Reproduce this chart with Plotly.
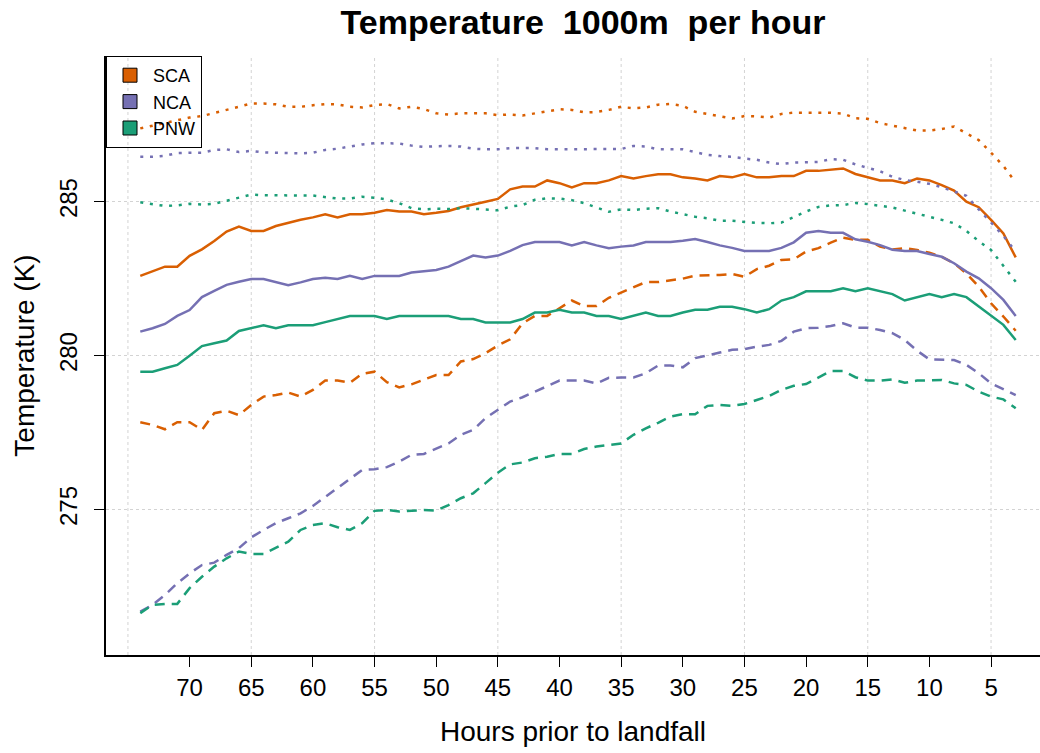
import plotly.graph_objects as go

# Hours before landfall, 74 down to 3
hours = list(range(74, 2, -1))

# 1000 m temperature (K): median, lower and upper percentile curves per region
sca_median = [282.59, 282.75, 282.89, 282.89, 283.24, 283.45, 283.72, 284.03, 284.19, 284.05, 284.05, 284.21,
              284.32, 284.41, 284.49, 284.59, 284.49, 284.59, 284.59, 284.64, 284.73, 284.68, 284.68,
              284.59, 284.64, 284.70, 284.82, 284.92, 285.00, 285.09, 285.40, 285.49, 285.49, 285.69, 285.60,
              285.46, 285.60, 285.60, 285.69, 285.83, 285.75, 285.83, 285.89, 285.89, 285.79, 285.75, 285.69,
              285.83, 285.79, 285.90, 285.79, 285.79, 285.83, 285.83, 286.00, 286.00, 286.03, 286.08, 285.90,
              285.79, 285.69, 285.69, 285.60, 285.75, 285.69, 285.54, 285.36, 285.00, 284.82, 284.41, 283.97, 283.19]
nca_median = [280.78, 280.89, 281.03, 281.29, 281.48, 281.90, 282.10, 282.30, 282.40, 282.49, 282.49, 282.38,
              282.29, 282.38, 282.49, 282.53, 282.49, 282.59, 282.49, 282.59, 282.59, 282.59, 282.70,
              282.75, 282.78, 282.89, 283.07, 283.25, 283.19, 283.25, 283.40, 283.59, 283.69, 283.69, 283.69,
              283.58, 283.69, 283.58, 283.49, 283.54, 283.58, 283.69, 283.69, 283.69, 283.73, 283.79, 283.69,
              283.58, 283.50, 283.40, 283.40, 283.40, 283.50, 283.68, 283.99, 284.05, 283.99, 283.99, 283.78,
              283.70, 283.59, 283.44, 283.40, 283.40, 283.30, 283.21, 283.00, 282.73, 282.51, 282.19, 281.81, 281.29]
pnw_median = [279.48, 279.48, 279.59, 279.70, 280.00, 280.31, 280.40, 280.49, 280.80, 280.89, 280.99, 280.89,
              280.99, 280.99, 280.99, 281.09, 281.19, 281.29, 281.29, 281.29, 281.19, 281.29, 281.29,
              281.29, 281.29, 281.29, 281.19, 281.19, 281.08, 281.08, 281.08, 281.19, 281.40, 281.40, 281.49,
              281.40, 281.40, 281.29, 281.29, 281.19, 281.29, 281.40, 281.29, 281.29, 281.40, 281.49, 281.49,
              281.59, 281.59, 281.51, 281.40, 281.51, 281.79, 281.90, 282.09, 282.09, 282.09, 282.19, 282.09,
              282.19, 282.09, 282.00, 281.79, 281.90, 282.00, 281.90, 282.00, 281.90, 281.59, 281.29, 281.00, 280.51]

sca_low = [277.84, 277.75, 277.61, 277.84, 277.84, 277.59, 278.13, 278.21, 278.07, 278.40, 278.67, 278.72,
           278.80, 278.67, 278.89, 279.19, 279.19, 279.12, 279.41, 279.48, 279.14, 278.97, 279.07,
           279.21, 279.37, 279.37, 279.81, 279.89, 280.08, 280.33, 280.53, 281.05, 281.29, 281.29, 281.54,
           281.79, 281.61, 281.61, 281.88, 282.05, 282.22, 282.39, 282.39, 282.44, 282.50, 282.60, 282.60,
           282.62, 282.65, 282.56, 282.81, 282.92, 283.11, 283.13, 283.38, 283.49, 283.67, 283.83, 283.76,
           283.76, 283.54, 283.45, 283.49, 283.43, 283.34, 283.21, 283.00, 282.67, 282.24, 281.70, 281.27, 280.81]
nca_low = [271.69, 271.91, 272.23, 272.61, 272.93, 273.20, 273.28, 273.53, 273.75, 274.10, 274.34, 274.56,
           274.72, 274.88, 275.12, 275.42, 275.69, 276.02, 276.29, 276.31, 276.38, 276.56, 276.78,
           276.81, 276.99, 277.15, 277.43, 277.59, 277.97, 278.24, 278.51, 278.65, 278.83, 278.99, 279.19,
           279.19, 279.19, 279.10, 279.28, 279.29, 279.29, 279.43, 279.68, 279.68, 279.62, 279.92, 280.02,
           280.10, 280.19, 280.21, 280.29, 280.35, 280.48, 280.78, 280.89, 280.91, 280.96, 281.05, 280.91,
           280.91, 280.83, 280.73, 280.51, 280.16, 279.88, 279.88, 279.86, 279.70, 279.43, 279.10, 278.91, 278.72]
pnw_low = [271.64, 271.91, 271.94, 271.94, 272.45, 272.82, 273.15, 273.42, 273.64, 273.56, 273.56, 273.75,
           273.96, 274.34, 274.50, 274.56, 274.43, 274.34, 274.56, 274.96, 274.99, 274.94, 274.96,
           274.99, 274.97, 275.15, 275.37, 275.53, 275.86, 276.20, 276.47, 276.53, 276.67, 276.72, 276.81,
           276.81, 276.97, 277.05, 277.10, 277.15, 277.43, 277.64, 277.82, 278.02, 278.10, 278.10, 278.37,
           278.40, 278.37, 278.43, 278.56, 278.69, 278.89, 279.02, 279.08, 279.30, 279.50, 279.50, 279.30,
           279.19, 279.19, 279.23, 279.12, 279.19, 279.21, 279.21, 279.10, 279.05, 278.83, 278.67, 278.58, 278.29]

sca_high = [287.38, 287.47, 287.57, 287.65, 287.73, 287.78, 287.87, 287.98, 288.08, 288.19, 288.19, 288.16,
            288.08, 288.08, 288.13, 288.17, 288.16, 288.08, 288.06, 288.14, 288.17, 288.03, 288.08,
            288.01, 287.87, 287.83, 287.87, 287.87, 287.87, 287.81, 287.83, 287.80, 287.87, 287.95, 288.00,
            287.98, 287.90, 287.91, 287.98, 288.08, 288.03, 288.06, 288.15, 288.17, 288.11, 287.92, 287.84,
            287.76, 287.70, 287.78, 287.77, 287.73, 287.85, 287.89, 287.89, 287.89, 287.89, 287.86, 287.71,
            287.69, 287.55, 287.47, 287.38, 287.31, 287.31, 287.36, 287.44, 287.22, 287.00, 286.59, 286.16, 285.62]
nca_high = [286.46, 286.46, 286.49, 286.58, 286.59, 286.59, 286.68, 286.70, 286.61, 286.65, 286.60, 286.59,
            286.58, 286.57, 286.59, 286.68, 286.72, 286.79, 286.86, 286.90, 286.90, 286.89, 286.82,
            286.78, 286.80, 286.81, 286.79, 286.72, 286.70, 286.70, 286.74, 286.73, 286.74, 286.70, 286.70,
            286.70, 286.70, 286.70, 286.70, 286.71, 286.81, 286.79, 286.70, 286.70, 286.70, 286.61, 286.52,
            286.48, 286.46, 286.40, 286.36, 286.27, 286.22, 286.27, 286.29, 286.29, 286.38, 286.36, 286.21,
            286.09, 285.99, 285.81, 285.70, 285.65, 285.58, 285.47, 285.34, 285.19, 284.75, 284.32, 283.89, 283.38]
pnw_high = [284.98, 284.93, 284.86, 284.88, 284.93, 284.91, 284.93, 285.03, 285.14, 285.23, 285.21, 285.20,
            285.20, 285.20, 285.20, 285.16, 285.10, 285.10, 285.16, 285.13, 285.07, 284.95, 284.79,
            284.75, 284.77, 284.76, 284.79, 284.77, 284.75, 284.72, 284.84, 284.89, 285.06, 285.11, 285.10,
            285.05, 284.95, 284.82, 284.67, 284.75, 284.73, 284.77, 284.79, 284.68, 284.59, 284.51, 284.46,
            284.38, 284.38, 284.34, 284.31, 284.30, 284.32, 284.50, 284.68, 284.83, 284.88, 284.89, 284.96,
            284.92, 284.87, 284.81, 284.71, 284.62, 284.51, 284.41, 284.30, 284.05, 283.72, 283.43, 282.92, 282.40]

regions = ["SCA", "NCA", "PNW"]
colors = {"SCA": "#d95f02", "NCA": "#7570b3", "PNW": "#1b9e77"}
series = {
    "SCA": (sca_median, sca_low, sca_high),
    "NCA": (nca_median, nca_low, nca_high),
    "PNW": (pnw_median, pnw_low, pnw_high),
}

x_tick_vals = list(range(70, 0, -5))
y_tick_vals = [275, 280, 285]
grid_hours = list(range(75, 0, -10))

FONT = "Liberation Sans, Arial, Helvetica, sans-serif"
dash_styles = ["solid", "10px,7px", "3px,6.7px"]

fig = go.Figure()

for region in regions:
    for values, dash in zip(series[region], dash_styles):
        fig.add_trace(go.Scatter(
            x=hours, y=values, mode="lines",
            line=dict(color=colors[region], width=2.5, dash=dash),
            showlegend=False, hoverinfo="skip",
        ))

# legend entries: filled boxes
for region in regions:
    fig.add_trace(go.Scatter(
        x=[None], y=[None], mode="markers", name=region,
        marker=dict(symbol="square", size=14, color=colors[region],
                    line=dict(color="black", width=1)),
    ))

# dotted vertical grid lines
for h in grid_hours:
    fig.add_shape(type="line", xref="x", yref="paper", x0=h, x1=h, y0=0, y1=1,
                  line=dict(color="#d3d3d3", width=1, dash="dot"), layer="below")

fig.update_layout(
    width=1040, height=753,
    margin=dict(l=106, r=0, t=56, b=98),
    paper_bgcolor="white", plot_bgcolor="white",
    font=dict(family=FONT, color="black"),
    title=dict(text="Temperature\u00a0 1000m\u00a0 per hour",
               font=dict(family=FONT, size=34, color="black", weight="bold"),
               x=0.5606, xanchor="center", xref="container",
               y=0.971, yanchor="middle", yref="container"),
    xaxis=dict(
        range=[76.78, 1.03], tickmode="array", tickvals=x_tick_vals,
        ticks="outside", ticklen=10, tickwidth=1, tickcolor="black",
        tickfont=dict(size=24), showgrid=False, zeroline=False,
        showline=True, linecolor="black", linewidth=1.5,
        title=dict(text="Hours prior to landfall", font=dict(size=28), standoff=22),
    ),
    yaxis=dict(
        range=[270.28, 289.73], tickmode="array", tickvals=y_tick_vals,
        ticks="outside", ticklen=10, tickwidth=1, tickcolor="black",
        tickfont=dict(size=24), tickangle=-90, ticklabelstandoff=8,
        showgrid=True, gridcolor="#d3d3d3", gridwidth=1, griddash="dot",
        zeroline=False, showline=True, linecolor="black", linewidth=1.5,
        title=dict(text="Temperature (K)", font=dict(size=28), standoff=12),
    ),
    legend=dict(
        x=0, y=1, xanchor="left", yanchor="top",
        bordercolor="black", borderwidth=1, bgcolor="rgba(0,0,0,0)",
        font=dict(size=18), itemwidth=36, tracegroupgap=0,
    ),
)

fig.write_html("out.html")
